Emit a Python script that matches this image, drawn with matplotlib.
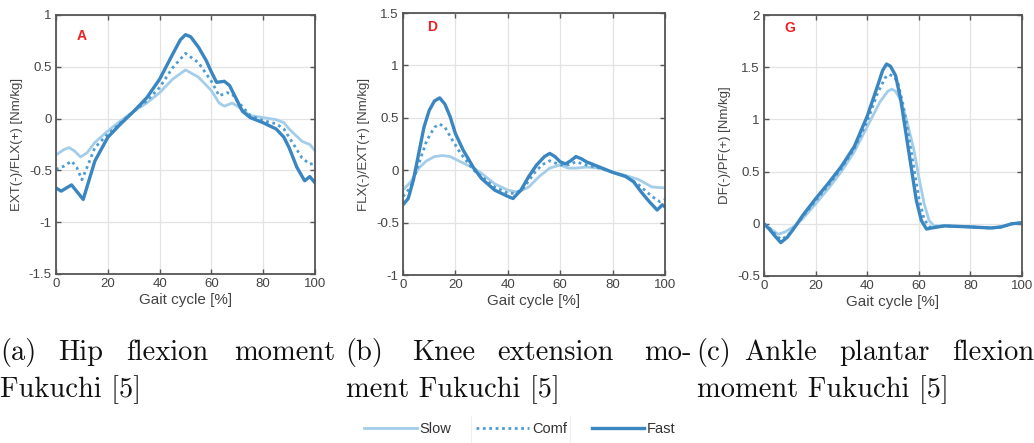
import matplotlib
matplotlib.use("AGG")
import matplotlib.pyplot as plt
from matplotlib.lines import Line2D

# hip (A)
hip_x_fast = [0, 2, 6, 10.5, 15, 20, 25, 30, 35, 40, 45, 48, 50, 52, 55, 58, 60, 62, 65, 67, 70, 72, 75, 80, 85, 88, 90, 93, 96, 98, 100]
hip_fast = [-0.67, -0.70, -0.64, -0.78, -0.41, -0.18, -0.05, 0.07, 0.20, 0.38, 0.62, 0.76, 0.81, 0.79, 0.69, 0.56, 0.45, 0.35, 0.36, 0.32, 0.17, 0.07, 0.01, -0.04, -0.10, -0.18, -0.28, -0.47, -0.60, -0.56, -0.62]
hip_x = [0, 3, 6, 8, 10, 12, 15, 20, 25, 30, 35, 40, 45, 50, 55, 60, 63, 66, 68, 70, 75, 80, 85, 88, 90, 95, 98, 100]
hip_comf = [-0.49, -0.46, -0.41, -0.47, -0.59, -0.47, -0.28, -0.15, -0.04, 0.07, 0.17, 0.30, 0.49, 0.63, 0.54, 0.36, 0.22, 0.25, 0.24, 0.17, 0.03, -0.02, -0.05, -0.10, -0.18, -0.38, -0.44, -0.43]
hip_x_slow = [0, 3, 5, 7, 9.5, 12, 15, 20, 25, 30, 35, 40, 45, 50, 55, 60, 63, 65, 68, 70, 75, 80, 85, 88, 90, 95, 98, 100]
hip_slow = [-0.35, -0.30, -0.28, -0.31, -0.37, -0.33, -0.23, -0.12, -0.02, 0.07, 0.15, 0.25, 0.38, 0.47, 0.40, 0.27, 0.15, 0.12, 0.15, 0.12, 0.03, 0.01, -0.01, -0.04, -0.10, -0.22, -0.25, -0.31]

# knee (D)
knee_x_fast = [0, 2, 4, 6, 8, 10, 12, 14, 16, 18, 20, 23, 27, 30, 35, 40, 42, 45, 48, 51, 54, 56, 58, 60, 62, 64, 66, 68, 70, 75, 80, 85, 88, 91, 94, 97, 99, 100]
knee_fast = [-0.33, -0.27, -0.09, 0.16, 0.41, 0.57, 0.66, 0.69, 0.63, 0.51, 0.35, 0.19, 0.02, -0.08, -0.19, -0.25, -0.27, -0.19, -0.06, 0.05, 0.13, 0.16, 0.13, 0.08, 0.06, 0.09, 0.13, 0.11, 0.08, 0.03, -0.02, -0.06, -0.11, -0.21, -0.30, -0.38, -0.33, -0.35]
knee_x_comf = [0, 3, 6, 9, 12, 14, 16, 19, 22, 27, 30, 35, 40, 43, 46, 50, 53, 56, 60, 63, 66, 70, 75, 80, 85, 90, 95, 98, 100]
knee_comf = [-0.25, -0.16, 0.06, 0.28, 0.41, 0.44, 0.41, 0.28, 0.16, 0.00, -0.06, -0.16, -0.22, -0.22, -0.17, -0.03, 0.05, 0.09, 0.05, 0.05, 0.08, 0.05, 0.02, -0.02, -0.06, -0.14, -0.25, -0.30, -0.28]
knee_x_slow = [0, 3, 6, 9, 12, 15, 18, 22, 27, 30, 35, 40, 44, 48, 52, 56, 60, 63, 66, 70, 75, 80, 85, 90, 95, 100]
knee_slow = [-0.19, -0.11, 0.02, 0.09, 0.13, 0.14, 0.13, 0.08, 0.02, -0.03, -0.13, -0.19, -0.21, -0.16, -0.06, 0.02, 0.05, 0.02, 0.02, 0.03, 0.02, -0.02, -0.05, -0.09, -0.16, -0.17]

# ankle (G)
ank_x_fast = [0, 2, 4, 6.5, 9, 12, 15, 20, 25, 30, 35, 40, 44, 46, 47.5, 49, 51, 53, 55, 57, 59, 61, 63, 65, 70, 80, 88, 92, 96, 100]
ank_fast = [0.0, -0.05, -0.11, -0.18, -0.13, -0.03, 0.08, 0.24, 0.39, 0.55, 0.74, 1.03, 1.32, 1.47, 1.53, 1.51, 1.42, 1.19, 0.87, 0.55, 0.23, 0.03, -0.05, -0.04, -0.02, -0.03, -0.04, -0.03, 0.0, 0.01]
ank_x_comf = [0, 2, 4, 6.5, 9, 12, 15, 20, 25, 30, 35, 40, 44, 47, 48.5, 50.5, 52, 54, 56, 58, 60, 62, 64, 66, 70, 80, 88, 92, 96, 100]
ank_comf = [0.0, -0.04, -0.09, -0.15, -0.12, -0.03, 0.07, 0.22, 0.37, 0.53, 0.72, 0.98, 1.25, 1.40, 1.43, 1.41, 1.34, 1.13, 0.85, 0.55, 0.25, 0.05, -0.03, -0.03, -0.02, -0.03, -0.04, -0.03, 0.0, 0.01]
ank_x_slow = [0, 2, 5.5, 8, 12, 15, 20, 25, 30, 35, 40, 45, 48, 49.5, 51, 53, 55, 58, 60, 62, 64, 66, 70, 80, 88, 92, 96, 100]
ank_slow = [0.0, -0.04, -0.10, -0.08, -0.02, 0.05, 0.19, 0.34, 0.50, 0.69, 0.93, 1.17, 1.27, 1.29, 1.27, 1.18, 1.02, 0.72, 0.45, 0.20, 0.03, -0.02, -0.02, -0.03, -0.04, -0.03, 0.0, 0.01]

ylabels = ["EXT(-)/FLX(+) [Nm/kg]", "FLX(-)/EXT(+) [Nm/kg]", "DF(-)/PF(+) [Nm/kg]"]
letters = ["A", "D", "G"]
yranges = [(-1.5, 1.0), (-1.0, 1.5), (-0.5, 2.0)]
ytick_labels = [["-1.5", "-1", "-0.5", "0", "0.5", "1"],
                ["-1", "-0.5", "0", "0.5", "1", "1.5"],
                ["-0.5", "0", "0.5", "1", "1.5", "2"]]

c_slow = "#a3cde8"
c_comf = "#4f9cd2"
c_fast = "#3a86c1"
gray = "#555555"

plt.rcParams['font.family'] = ['Liberation Sans', 'DejaVu Sans']

W, H = 1034, 443
fig = plt.figure(figsize=(W/100, H/100), dpi=100)

boxes = [(56, 315, 15, 274), (403, 665, 13, 275), (764, 1022, 15, 276)]
letter_pos = [(10, 0.8), (11, 1.37), (10, 1.88)]
series = [
    ((hip_x_slow, hip_slow), (hip_x, hip_comf), (hip_x_fast, hip_fast)),
    ((knee_x_slow, knee_slow), (knee_x_comf, knee_comf), (knee_x_fast, knee_fast)),
    ((ank_x_slow, ank_slow), (ank_x_comf, ank_comf), (ank_x_fast, ank_fast)),
]

for i, (l, r, t, b) in enumerate(boxes):
    ax = fig.add_axes([l/W, (H-b)/H, (r-l)/W, (b-t)/H])
    (xs, ys), (xc, yc), (xf, yf) = series[i]
    ax.plot(xs, ys, color=c_slow, lw=2.0)
    ax.plot(xc, yc, color=c_comf, lw=2.0, ls=(0, (1, 1.3)))
    ax.plot(xf, yf, color=c_fast, lw=2.4)
    lo, hi = yranges[i]
    ax.set_xlim(0, 100)
    ax.set_ylim(lo, hi)
    ax.set_xticks([0, 20, 40, 60, 80, 100])
    yt = [lo + 0.5*k for k in range(6)]
    ax.set_yticks(yt)
    ax.set_yticklabels(ytick_labels[i])
    ax.grid(True, color="#e3e3e3", lw=0.9)
    ax.set_axisbelow(True)
    for sp in ax.spines.values():
        sp.set_color(gray)
        sp.set_linewidth(1.3)
    ax.tick_params(direction="in", length=3.5, width=1.0, color=gray, labelcolor="#444444",
                   labelsize=9.5, top=True, right=True, pad=3)
    ax.set_xlabel("Gait cycle [%]", fontsize=11, color="#444444", labelpad=2)
    ax.set_ylabel(ylabels[i], fontsize=9.5, color="#444444", labelpad=4)
    lx, ly = letter_pos[i]
    ax.text(lx, ly, letters[i], color="#ee2222", fontsize=10, fontweight="bold",
            ha="center", va="center")

# captions (LaTeX-like subfigure text)
cap_font = dict(family="cmr10", fontsize=20.5, color="#111111", va="baseline")
line1 = [("(a)", 0), ("Hip", 58), ("flexion", 126), ("moment", 234),
         ("(b)", 345), ("Knee", 412), ("extension", 497), ("mo-", 644),
         ("(c)", 696), ("Ankle", 744), ("plantar", 839), ("flexion", 952)]
line2 = [("Fukuchi [5]", 0), ("ment Fukuchi [5]", 346), ("moment Fukuchi [5]", 697)]
for word, x in line1:
    fig.text(x/W, (H-360)/H, word, **cap_font)
for word, x in line2:
    fig.text(x/W, (H-397)/H, word, **cap_font)

# faint separators between legend entries
for sx in (471, 570):
    fig.add_artist(Line2D([sx/W, sx/W], [1/H, 27/H], color="#eeeeee", lw=0.8))

handles = [Line2D([], [], color=c_slow, lw=2.0),
           Line2D([], [], color=c_comf, lw=2.0, ls=(0, (1, 1.3))),
           Line2D([], [], color=c_fast, lw=2.4)]
fig.legend(handles, ["Slow", "Comf", "Fast"], loc="center", bbox_to_anchor=(520/W, 14/H),
           ncol=3, frameon=False, fontsize=10.5, handlelength=3.6, handletextpad=0.2,
           columnspacing=1.7, labelcolor="#333333")

plt.savefig("out.png", dpi=100)
